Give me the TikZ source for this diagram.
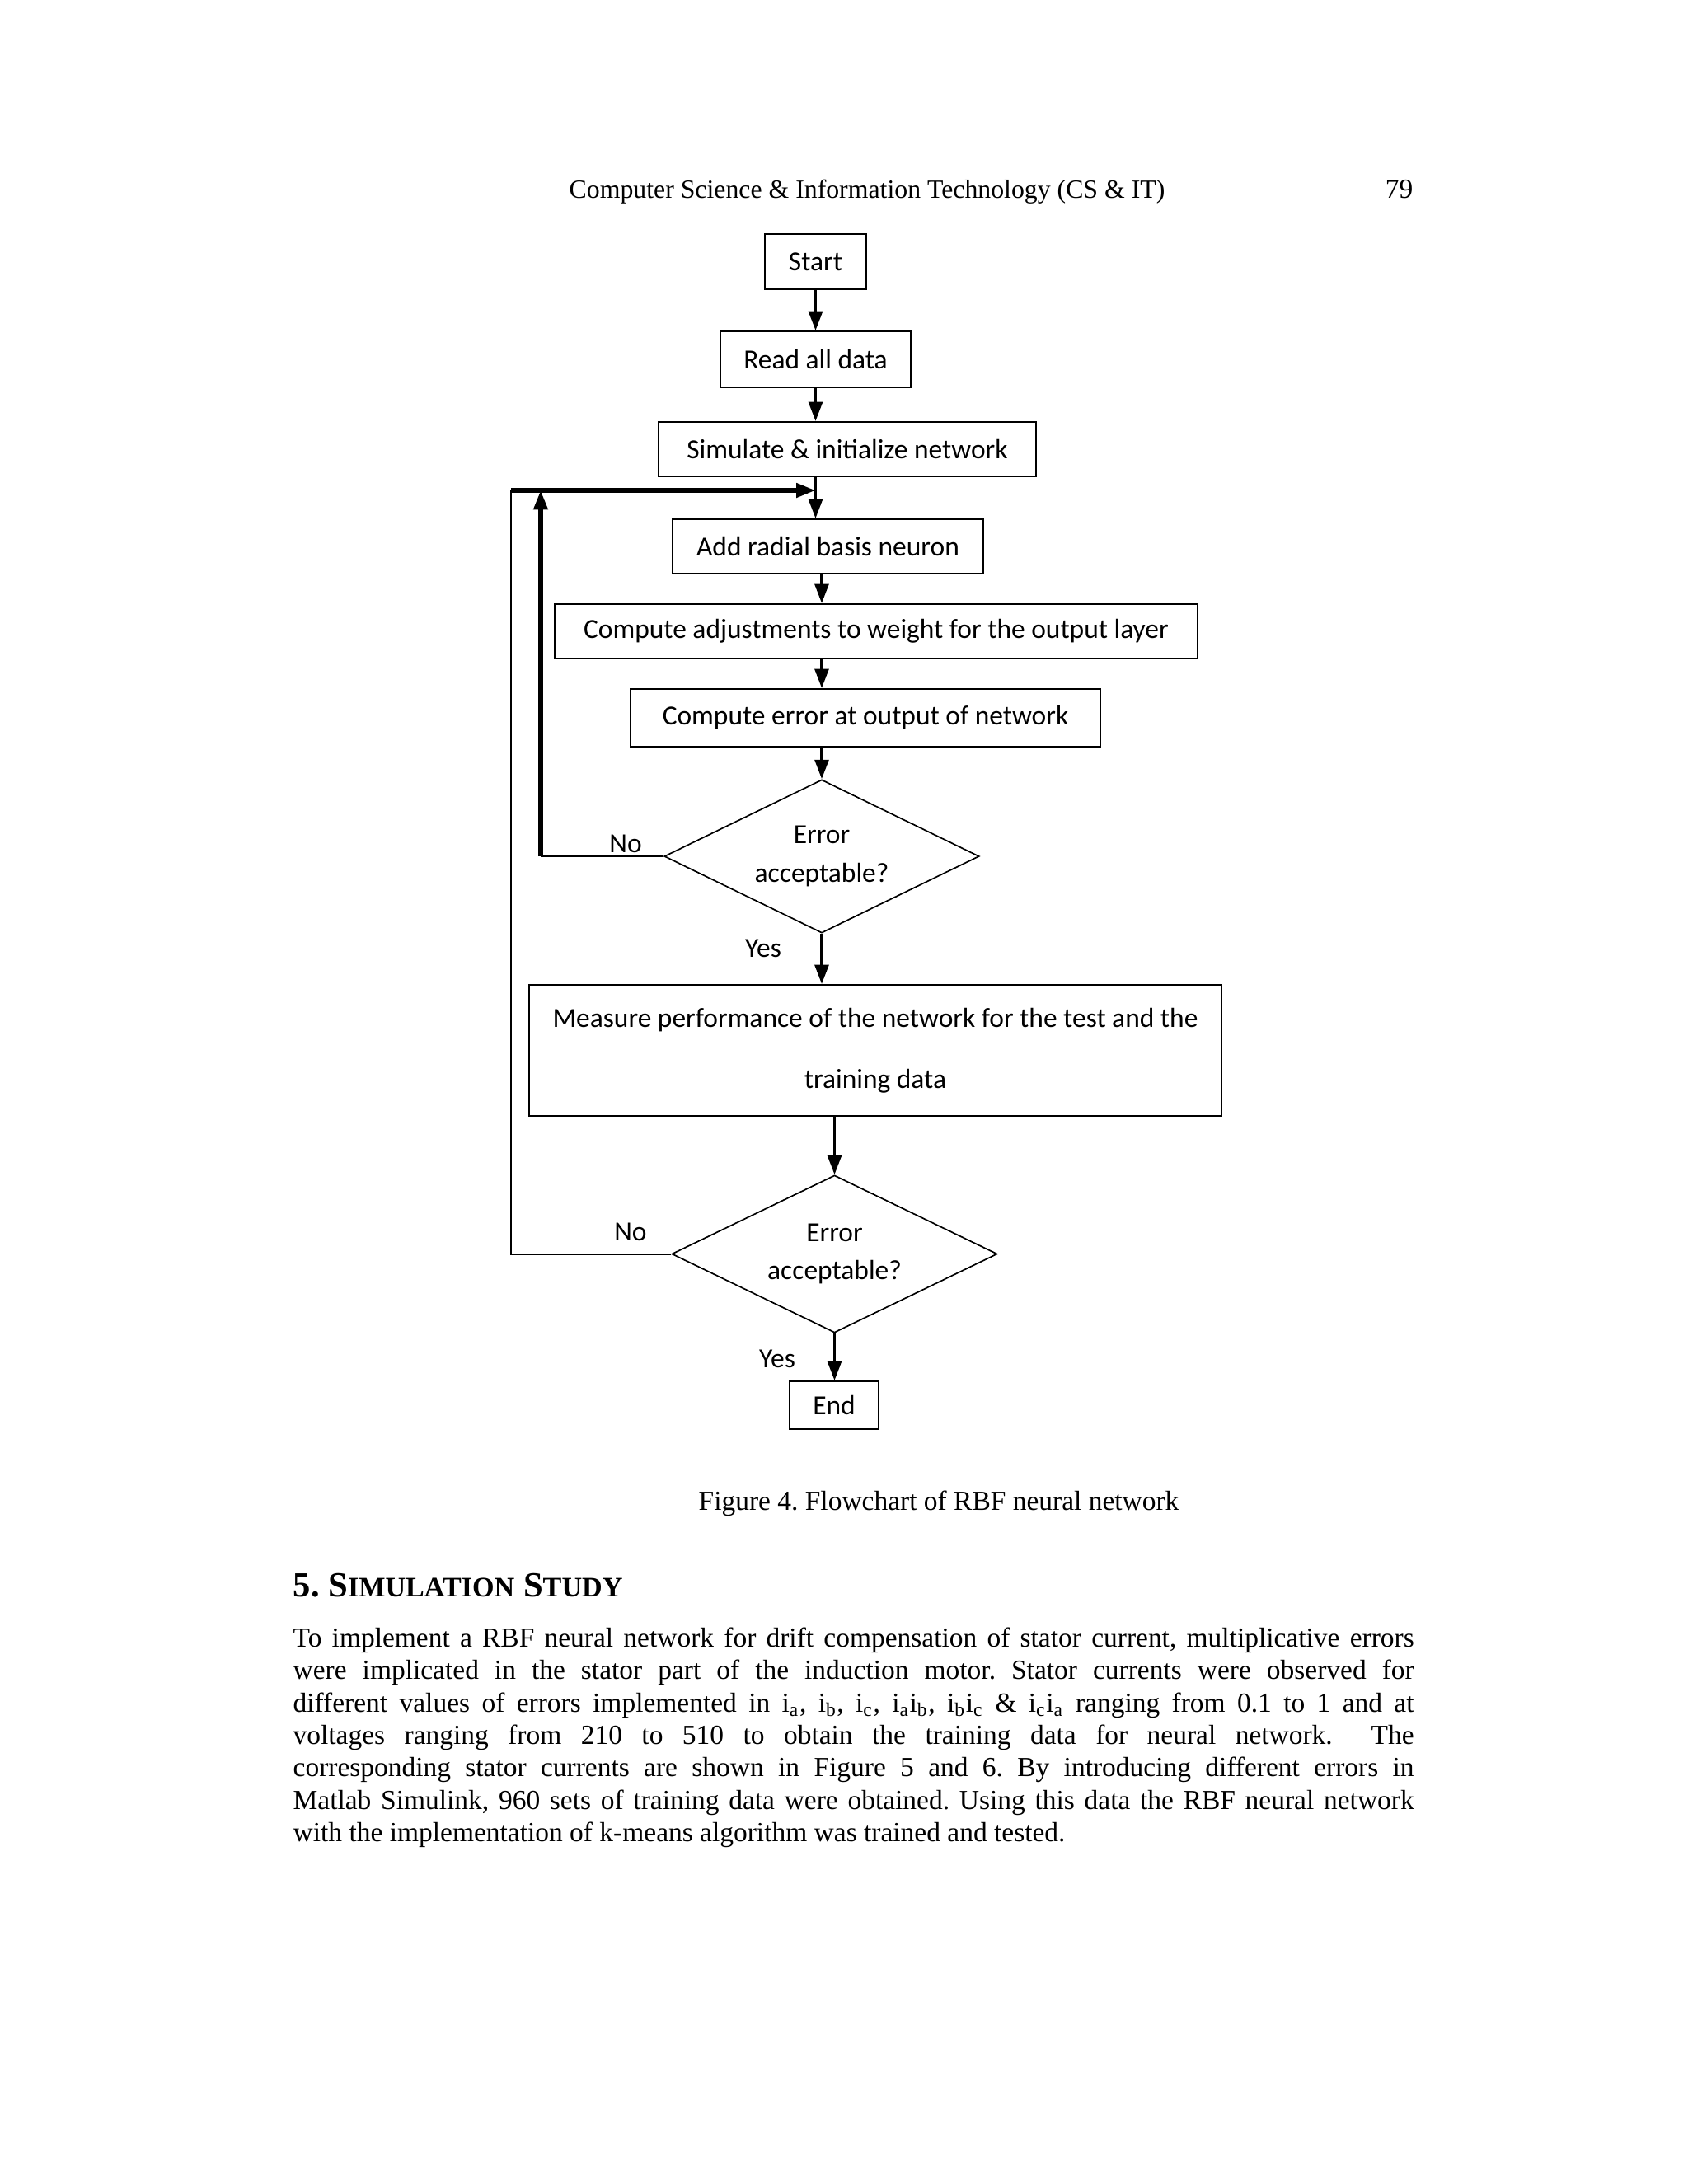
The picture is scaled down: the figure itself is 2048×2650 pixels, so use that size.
\documentclass[tikz,border=0pt]{standalone}
\usepackage{fontspec}
\setmainfont{Liberation Serif}
\newfontfamily\chartfont{Carlito}
\usetikzlibrary{shapes.geometric,arrows.meta}
\newdimen\px \px=0.29883pt
\newcommand\isub[1]{i\textsubscript{#1}}
\frenchspacing
\begin{document}
\begin{tikzpicture}[x=0.29883pt,y=-0.29883pt,
    box/.style={draw,line width=0.6pt,inner sep=0pt,font=\chartfont\fontsize{10}{12}\selectfont},
    decision/.style={draw,diamond,aspect=2,line width=0.5pt,inner sep=0pt,align=center,font=\chartfont\fontsize{10}{13}\selectfont},
    arr/.style={line width=1.1pt,-{Triangle[length=7pt,width=5pt]}},
    loopthick/.style={line width=1.6pt},
    loopthin/.style={line width=0.6pt},
    lbl/.style={inner sep=0pt,font=\chartfont\fontsize{10}{12}\selectfont},
    txt/.style={inner sep=0pt,anchor=base west,font=\fontsize{10}{11.8}\selectfont}]
    \useasboundingbox (0,0) rectangle (2048,2650);
    \fill[white] (0,0) rectangle (2048,2650);
    % page header
    \node[txt,font=\fontsize{9.5}{11}\selectfont] (hdr) at (690,240) {Computer Science \& Information Technology (CS \& IT)};
    \node[txt,anchor=base east] (pgno) at (1715,240) {79};
    % flowchart
    \node[box,minimum width=123\px,minimum height=67\px] (start) at (989.5,317.5) {Start};
    \node[box,minimum width=231\px,minimum height=68\px] (read) at (989.5,436) {Read all data};
    \node[box,minimum width=458\px,minimum height=66\px] (sim) at (1028,545) {Simulate \& initialize network};
    \node[box,minimum width=377\px,minimum height=66\px] (add) at (1004.5,663) {Add radial basis neuron};
    \node[box,minimum width=780\px,minimum height=66\px] (adj) at (1063,766) {Compute adjustments to weight for the output layer};
    \node[box,minimum width=570\px,minimum height=70\px] (err) at (1050,871) {Compute error at output of network};
    \node[decision,minimum width=382\px,minimum height=186\px] (dia1) at (997,1039) {Error\\[1pt]acceptable?};
    \node[box,align=center,minimum width=840\px,minimum height=159\px] (meas) at (1062,1274.5) {Measure performance of the network for the test and the\\[10pt]training data};
    \node[decision,minimum width=395\px,minimum height=191\px] (dia2) at (1012.5,1521.5) {Error\\[1pt]acceptable?};
    \node[box,minimum width=108\px,minimum height=58\px] (fin) at (1012,1705) {End};
    \node[lbl] (no1) at (759,1024) {No};
    \node[lbl] (yes1) at (926,1151) {Yes};
    \node[lbl] (no2) at (765,1495) {No};
    \node[lbl] (yes2) at (943,1649) {Yes};
    \coordinate (jn) at (989.5,595);
    \coordinate (lp1) at (656,595);
    \coordinate (lp2) at (620,595);
    \draw[arr] (start) -- (read);
    \draw[arr] (read.south) -- (read.south |- sim.north);
    \draw[arr] (sim.south -| start) -- (add.north -| start);
    \draw[arr] (add.south -| dia1) -- (adj.north -| dia1);
    \draw[arr] (adj.south -| dia1) -- (err.north -| dia1);
    \draw[arr] (err.south -| dia1) -- (dia1.north);
    \draw[arr] (dia1.south) -- (dia1.south |- meas.north);
    \draw[arr] (dia2.north |- meas.south) -- (dia2.north);
    \draw[arr] (dia2.south) -- (dia2.south |- fin.north);
    % loops back
    \draw[loopthin] (dia2.west) -| (lp2);
    \draw[arr,loopthick] (lp2) -- (jn);
    \draw[loopthin] (dia1.west) -- (dia1.west -| lp1);
    \draw[arr,loopthick] (dia1.west -| lp1) -- (lp1);
    % caption and text
    \node[txt] (cap) at (847,1832) {Figure 4. Flowchart of RBF neural network};
    \node[txt,font=\bfseries\fontsize{12.75}{14}\selectfont] (sec) at (355,1937) {5. S{\fontsize{10.2}{12}\selectfont IMULATION} S{\fontsize{10.2}{12}\selectfont TUDY}};
    \node[txt,text width=406.4pt,align=justify] (para) at (355,1998) {To implement a RBF neural network for drift compensation of stator current, multiplicative errors\linebreak
    were implicated in the stator part of the induction motor. Stator currents were observed for\linebreak
    different values of errors implemented in \isub{a}, \isub{b}, \isub{c}, \isub{a}\isub{b}, \isub{b}\isub{c} \& \isub{c}\isub{a} ranging from 0.1 to 1 and at\linebreak
    voltages ranging from 210 to 510 to obtain the training data for neural network.~ The\linebreak
    corresponding stator currents are shown in Figure 5 and 6. By introducing different errors in\linebreak
    Matlab Simulink, 960 sets of training data were obtained. Using this data the RBF neural network\linebreak
    with the implementation of k-means algorithm was trained and tested.};
\end{tikzpicture}
\end{document}
